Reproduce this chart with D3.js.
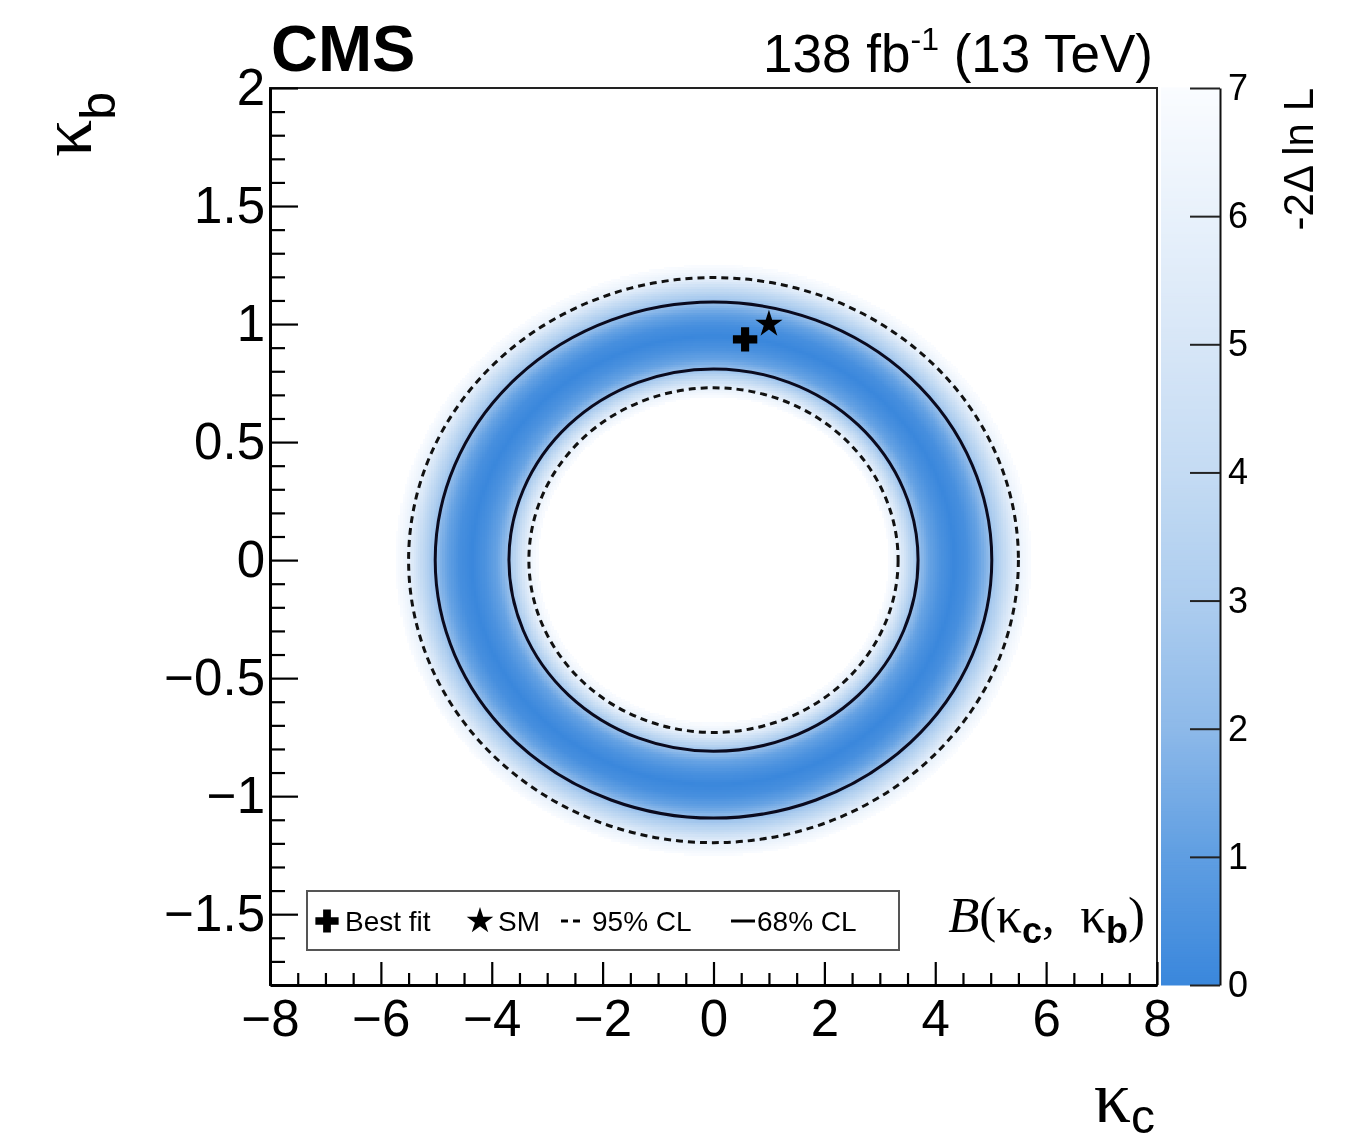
<!DOCTYPE html>
<html>
<head>
<meta charset="utf-8">
<script src="https://cdn.jsdelivr.net/npm/d3@7"></script>
<style>
  body { margin: 0; background: #fff; }
  #wrap { position: relative; width: 1347px; height: 1134px; }
  #heat, #chart { position: absolute; left: 0; top: 0; }
  text { white-space: pre; }
</style>
</head>
<body>
<div id="wrap">
  <canvas id="heat" width="1347" height="1134"></canvas>
  <svg id="chart" width="1347" height="1134"></svg>
</div>
<script>
// ---------------- DATA ----------------
const xDomain = [-8, 8];            // kappa_c
const yDomain = [-1.8, 2];          // kappa_b
const xMajorTicks = [-8, -6, -4, -2, 0, 2, 4, 6, 8];
const yMajorTicks = [-1.5, -1, -0.5, 0, 0.5, 1, 1.5, 2];
const zDomain = [0, 7];
const zTicks = [0, 1, 2, 3, 4, 5, 6, 7];

// Ring-shaped likelihood: -2ΔlnL versus normalised elliptical radius
const ringAspect = 4.58;  // kappa_c semi-axis / kappa_b semi-axis
const profileR = [0.00, 0.62, 0.68, 0.73, 0.77, 0.81, 0.85, 0.90, 0.95, 1.00, 1.05, 1.095, 1.15, 1.20, 1.26, 1.40];
const profileQ = [9.0, 9.0, 7.3, 5.99, 4.0, 2.30, 1.2, 0.45, 0.0, 0.35, 1.2, 2.30, 4.0, 5.99, 7.2, 9.0];

// Confidence contours (semi-axes in kappa_c, kappa_b)
const contour68 = [{ rx: 5.02, ry: 1.093 }, { rx: 3.69, ry: 0.81 }];
const contour95 = [{ rx: 5.50, ry: 1.197 }, { rx: 3.33, ry: 0.73 }];

const bestFit = { kc: 0.57, kb: 0.935 };
const smPoint = { kc: 1.0, kb: 1.0 };

const paletteStops = [0, 1, 2, 3, 4, 5, 6, 7];
const paletteColors = ["#3a87dc", "#5f9ee2", "#8db9e9", "#adcdef", "#c4dbf3", "#d7e6f7", "#e8f1fb", "#fafcff"];

// ---------------- LAYOUT ----------------
const plot = { left: 270, right: 1157, top: 88, bottom: 985 };
const cbar = { left: 1161, right: 1220 };
const sans = "'Liberation Sans', Arial, Helvetica, sans-serif";
const serif = "'Liberation Serif', 'Times New Roman', serif";

const x = d3.scaleLinear().domain(xDomain).range([plot.left, plot.right]);
const y = d3.scaleLinear().domain(yDomain).range([plot.bottom, plot.top]);
const z = d3.scaleLinear().domain(zDomain).range([plot.bottom, plot.top]);
const color = d3.scaleLinear().domain(paletteStops).range(paletteColors).clamp(true);
const profile = d3.scaleLinear().domain(profileR).range(profileQ).clamp(true);

// ---------------- HEATMAP (canvas) ----------------
const canvas = document.getElementById("heat");
const ctx = canvas.getContext("2d");
ctx.save();
ctx.beginPath();
ctx.rect(plot.left, plot.top, plot.right - plot.left, plot.bottom - plot.top);
ctx.clip();
const nx = 400, ny = 380;
const dx = (xDomain[1] - xDomain[0]) / nx, dy = (yDomain[1] - yDomain[0]) / ny;
for (let i = 0; i < nx; i++) {
  const kc0 = xDomain[0] + i * dx;
  const px0 = Math.floor(x(kc0)), px1 = Math.ceil(x(kc0 + dx));
  for (let j = 0; j < ny; j++) {
    const kb0 = yDomain[0] + j * dy;
    const u = Math.hypot((kc0 + dx / 2) / ringAspect, kb0 + dy / 2);
    const q = profile(u);
    if (q >= 7) continue;
    const py0 = Math.floor(y(kb0 + dy)), py1 = Math.ceil(y(kb0));
    ctx.fillStyle = color(q);
    ctx.fillRect(px0, py0, px1 - px0, py1 - py0);
  }
}
ctx.restore();

// ---------------- SVG ----------------
const svg = d3.select("#chart");

// contours
const gC = svg.append("g");
gC.selectAll("ellipse.c95").data(contour95).join("ellipse")
  .attr("cx", x(0)).attr("cy", y(0))
  .attr("rx", d => x(d.rx) - x(0)).attr("ry", d => y(0) - y(d.ry))
  .attr("fill", "none").attr("stroke", "#111").attr("stroke-width", 3)
  .attr("stroke-dasharray", "7,5");
gC.selectAll("ellipse.c68").data(contour68).join("ellipse")
  .attr("cx", x(0)).attr("cy", y(0))
  .attr("rx", d => x(d.rx) - x(0)).attr("ry", d => y(0) - y(d.ry))
  .attr("fill", "none").attr("stroke", "#0a0a1e").attr("stroke-width", 3);

// markers
svg.append("path").attr("d", d3.symbol(d3.symbolCross, 330)())
  .attr("transform", `translate(${x(bestFit.kc)},${y(bestFit.kb)})`).attr("fill", "#000");
svg.append("path").attr("d", d3.symbol(d3.symbolStar, 230)())
  .attr("transform", `translate(${x(smPoint.kc)},${y(smPoint.kb)})`).attr("fill", "#000");

// frame
svg.append("rect").attr("x", plot.left).attr("y", plot.top)
  .attr("width", plot.right - plot.left).attr("height", plot.bottom - plot.top)
  .attr("fill", "none").attr("stroke", "#222").attr("stroke-width", 2);

const fmt = d => (d < 0 ? "\u2212" : "") + String(Math.abs(d));

// y axis
const yMinor = d3.range(-17, 21).map(k => k / 10).filter(v => !yMajorTicks.some(t => Math.abs(t - v) < 1e-9));
const gy = svg.append("g").attr("transform", `translate(${plot.left},0)`);
gy.call(d3.axisLeft(y).tickValues(yMajorTicks).tickSizeInner(-28).tickSizeOuter(0).tickPadding(5).tickFormat(fmt));
const gyMinor = svg.append("g").attr("transform", `translate(${plot.left},0)`);
gyMinor.call(d3.axisLeft(y).tickValues(yMinor).tickSizeInner(-15).tickSizeOuter(0).tickFormat(""));
gyMinor.select(".domain").remove();

// x axis
const xMinor = d3.range(-16, 17).map(k => k / 2).filter(v => !xMajorTicks.includes(v));
const gx = svg.append("g").attr("transform", `translate(0,${plot.bottom})`);
gx.call(d3.axisBottom(x).tickValues(xMajorTicks).tickSizeInner(-23).tickSizeOuter(0).tickPadding(15).tickFormat(fmt));
const gxMinor = svg.append("g").attr("transform", `translate(0,${plot.bottom})`);
gxMinor.call(d3.axisBottom(x).tickValues(xMinor).tickSizeInner(-12).tickSizeOuter(0).tickFormat(""));
gxMinor.select(".domain").remove();

[gx, gy].forEach(g => {
  g.select(".domain").attr("stroke", "#000").attr("stroke-width", 3);
  g.selectAll("text").attr("font-family", sans).attr("font-size", 51).attr("fill", "#000");
});
[gx, gy, gxMinor, gyMinor].forEach(g => g.selectAll(".tick line").attr("stroke", "#000").attr("stroke-width", 2.2));

// colour bar
const zSteps = d3.range(0, 350).map(k => k * 0.02);
svg.append("g").selectAll("rect").data(zSteps).join("rect")
  .attr("x", cbar.left).attr("width", cbar.right - cbar.left)
  .attr("y", d => z(d + 0.02) - 0.5).attr("height", d => z(d) - z(d + 0.02) + 1)
  .attr("fill", d => color(d + 0.01));
const gz = svg.append("g").attr("transform", `translate(${cbar.right},0)`);
gz.call(d3.axisRight(z).tickValues(zTicks).tickSizeInner(-30).tickSizeOuter(0).tickPadding(8).tickFormat(d3.format("d")));
gz.select(".domain").attr("stroke", "#111").attr("stroke-width", 2);
gz.selectAll(".tick line").attr("stroke", "#222").attr("stroke-width", 2);
gz.selectAll("text").attr("font-family", sans).attr("font-size", 36).attr("fill", "#000");

// colour bar title
svg.append("text").attr("transform", `translate(1313,${plot.top}) rotate(-90)`)
  .attr("text-anchor", "end").attr("font-family", sans).attr("font-size", 42).attr("fill", "#000")
  .text("-2\u0394 ln L");

// axis titles
const yt = svg.append("text").attr("transform", `translate(91,92) rotate(-90)`)
  .attr("text-anchor", "end").attr("font-family", serif).attr("font-size", 74).attr("fill", "#000");
yt.append("tspan").text("\u03ba");
yt.append("tspan").attr("font-family", sans).attr("font-size", 50).attr("dy", 24).text("b");

const xt = svg.append("text").attr("x", 1155).attr("y", 1122)
  .attr("text-anchor", "end").attr("font-family", serif).attr("font-size", 74).attr("fill", "#000");
xt.append("tspan").text("\u03ba");
xt.append("tspan").attr("font-family", sans).attr("font-size", 48).attr("dy", 11).text("c");

// CMS label and lumi
svg.append("text").attr("x", 271).attr("y", 71).attr("font-family", sans).attr("font-weight", "bold")
  .attr("font-size", 65).attr("fill", "#000").text("CMS");
const lumi = svg.append("text").attr("x", 1153).attr("y", 72).attr("text-anchor", "end")
  .attr("font-family", sans).attr("font-size", 53).attr("fill", "#000");
lumi.append("tspan").text("138 fb");
lumi.append("tspan").attr("font-size", 32).attr("dy", -22).text("-1");
lumi.append("tspan").attr("dy", 22).text(" (13 TeV)");

// B(kc, kb) label
const bl = svg.append("text").attr("x", 1145).attr("y", 932).attr("text-anchor", "end")
  .attr("font-family", serif).attr("font-size", 51).attr("fill", "#000");
bl.append("tspan").attr("font-style", "italic").text("B");
bl.append("tspan").text("(\u03ba");
bl.append("tspan").attr("font-family", sans).attr("font-weight", "bold").attr("font-size", 36).attr("dy", 11).text("c");
bl.append("tspan").attr("dy", -11).text(",  \u03ba");
bl.append("tspan").attr("font-family", sans).attr("font-weight", "bold").attr("font-size", 36).attr("dy", 11).text("b");
bl.append("tspan").attr("dy", -11).text(")");

// legend
const lg = svg.append("g");
lg.append("rect").attr("x", 307).attr("y", 891).attr("width", 592).attr("height", 59)
  .attr("fill", "#fff").attr("stroke", "#555").attr("stroke-width", 2);
const ly = 921;
lg.append("path").attr("d", d3.symbol(d3.symbolCross, 300)()).attr("transform", `translate(327,${ly})`).attr("fill", "#000");
lg.append("path").attr("d", d3.symbol(d3.symbolStar, 220)()).attr("transform", `translate(480,${ly})`).attr("fill", "#000");
lg.append("line").attr("x1", 561).attr("x2", 584).attr("y1", ly).attr("y2", ly)
  .attr("stroke", "#000").attr("stroke-width", 3).attr("stroke-dasharray", "7,5");
lg.append("line").attr("x1", 731).attr("x2", 755).attr("y1", ly).attr("y2", ly)
  .attr("stroke", "#000").attr("stroke-width", 3);
const legendText = [{ x: 345, t: "Best fit" }, { x: 498, t: "SM" }, { x: 592, t: "95% CL" }, { x: 757, t: "68% CL" }];
lg.selectAll("text").data(legendText).join("text")
  .attr("x", d => d.x).attr("y", ly + 10).attr("font-family", sans).attr("font-size", 28).attr("fill", "#000")
  .text(d => d.t);
</script>
</body>
</html>
